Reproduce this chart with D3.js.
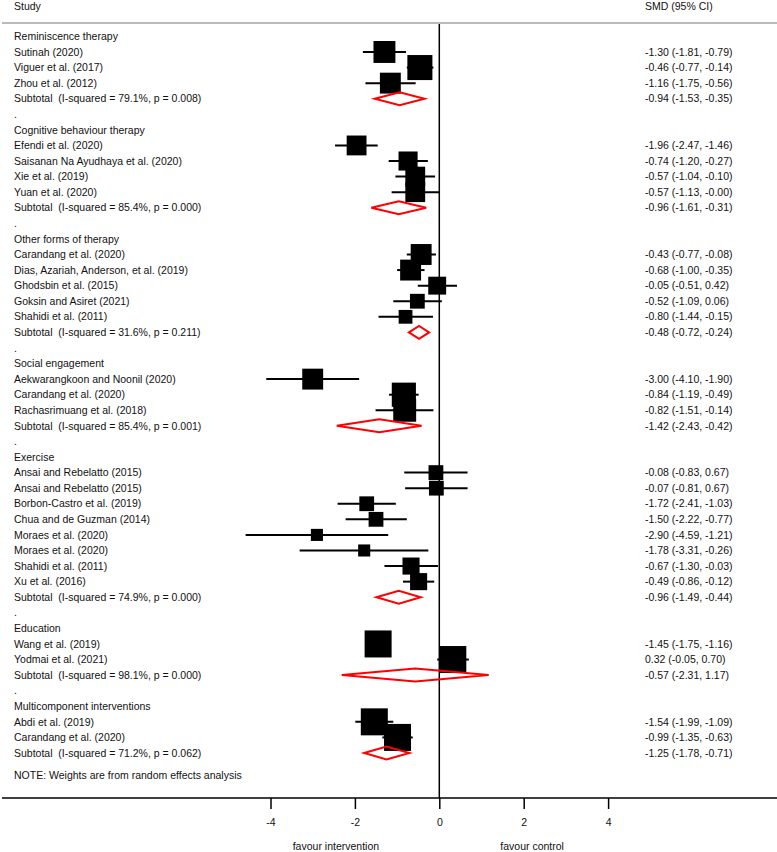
<!DOCTYPE html>
<html lang="en">
<head>
<meta charset="UTF-8">
<title>Forest plot</title>
<style>
  body { margin: 0; background: #fff; }
  svg text { font-family: "Liberation Sans", Arial, Helvetica, sans-serif; font-size: 10.5px; fill: #111; white-space: pre; }
</style>
</head>
<body>
<svg id="forest" width="777" height="852"></svg>
<script src="https://d3js.org/d3.v7.min.js"></script>
<script>
// groups
const groupNames = ["Reminiscence therapy", "Cognitive behaviour therapy", "Other forms of therapy",
  "Social engagement", "Exercise", "Education", "Multicomponent interventions"];

// studies (group index, label, SMD, lower, upper, relative weight)
const studyGroup = [0,0,0, 1,1,1,1, 2,2,2,2,2, 3,3,3, 4,4,4,4,4,4,4,4, 5,5, 6,6];
const studyLabels = ["Sutinah (2020)", "Viguer et al. (2017)", "Zhou et al. (2012)",
  "Efendi et al. (2020)", "Saisanan Na Ayudhaya et al. (2020)", "Xie et al. (2019)", "Yuan et al. (2020)",
  "Carandang et al. (2020)", "Dias, Azariah, Anderson, et al. (2019)", "Ghodsbin et al. (2015)", "Goksin and Asiret (2021)", "Shahidi et al. (2011)",
  "Aekwarangkoon and Noonil (2020)", "Carandang et al. (2020)", "Rachasrimuang et al. (2018)",
  "Ansai and Rebelatto (2015)", "Ansai and Rebelatto (2015)", "Borbon-Castro et al. (2019)", "Chua and de Guzman (2014)",
  "Moraes et al. (2020)", "Moraes et al. (2020)", "Shahidi et al. (2011)", "Xu et al. (2016)",
  "Wang et al. (2019)", "Yodmai et al. (2021)",
  "Abdi et al. (2019)", "Carandang et al. (2020)"];
const studySmd = [-1.30, -0.46, -1.16, -1.96, -0.74, -0.57, -0.57, -0.43, -0.68, -0.05, -0.52, -0.80,
  -3.00, -0.84, -0.82, -0.08, -0.07, -1.72, -1.50, -2.90, -1.78, -0.67, -0.49, -1.45, 0.32, -1.54, -0.99];
const studyLo = [-1.81, -0.77, -1.75, -2.47, -1.20, -1.04, -1.13, -0.77, -1.00, -0.51, -1.09, -1.44,
  -4.10, -1.19, -1.51, -0.83, -0.81, -2.41, -2.22, -4.59, -3.31, -1.30, -0.86, -1.75, -0.05, -1.99, -1.35];
const studyHi = [-0.79, -0.14, -0.56, -1.46, -0.27, -0.10, -0.00, -0.08, -0.35, 0.42, 0.06, -0.15,
  -1.90, -0.49, -0.14, 0.67, 0.67, -1.03, -0.77, -1.21, -0.26, -0.03, -0.12, -1.16, 0.70, -1.09, -0.63];
const studyWeight = [33, 43, 30, 27, 25, 27, 27, 30, 30, 22, 15, 13, 30, 40, 36,
  15, 15, 15, 15, 10, 10, 20, 20, 50, 50, 50, 50];

// subtotals per group
const subI2 = ["79.1", "85.4", "31.6", "85.4", "74.9", "98.1", "71.2"];
const subP = ["0.008", "0.000", "0.211", "0.001", "0.000", "0.000", "0.062"];
const subSmd = [-0.94, -0.96, -0.48, -1.42, -0.96, -0.57, -1.25];
const subLo = [-1.53, -1.61, -0.72, -2.43, -1.49, -2.31, -1.78];
const subHi = [-0.35, -0.31, -0.24, -0.42, -0.44, 1.17, -0.71];

const xTicks = [-4, -2, 0, 2, 4];

// plain hyphen minus, keep "-0.00"
const fmt = v => (Object.is(v, -0) ? "-" : "") + v.toFixed(2);
const ci = (m, l, h) => `${fmt(m)} (${fmt(l)}, ${fmt(h)})`;

// build rows
const rows = [];
groupNames.forEach((g, gi) => {
  rows.push({ type: "header", label: g });
  studyGroup.forEach((sg, i) => {
    if (sg === gi) rows.push({ type: "study", label: studyLabels[i], m: studySmd[i], lo: studyLo[i], hi: studyHi[i], w: studyWeight[i] });
  });
  rows.push({ type: "sub", label: `Subtotal  (I-squared = ${subI2[gi]}%, p = ${subP[gi]})`, m: subSmd[gi], lo: subLo[gi], hi: subHi[gi] });
  rows.push({ type: "dot", label: "." });
});
rows.forEach((r, i) => r.i = i);

const svg = d3.select("#forest");

const x = d3.scaleLinear().domain([-4, 4]).range([270.5, 608.1]);
const y = d3.scaleLinear().domain([0, rows.length - 2]).range([36.4, 753]);
const box = d3.scaleSqrt().domain([0, 50]).range([0, 27]);

const xLabel = 14, xCi = 645;
const axisY = 798;

// header
svg.append("text").attr("x", xLabel).attr("y", 6).attr("dy", "0.35em").text("Study");
svg.append("text").attr("x", xCi).attr("y", 6).attr("dy", "0.35em").text("SMD (95% CI)");
svg.append("line").attr("x1", 2).attr("x2", 777).attr("y1", 23).attr("y2", 23)
  .attr("stroke", "#bbb").attr("stroke-width", 2);

// zero line
svg.append("line").attr("x1", x(0)).attr("x2", x(0)).attr("y1", 24).attr("y2", axisY)
  .attr("stroke", "#000").attr("stroke-width", 1.5);

// row labels
svg.append("g").selectAll("text")
  .data(rows)
  .join("text")
    .attr("x", xLabel)
    .attr("y", d => y(d.i))
    .attr("dy", "0.35em")
    .text(d => d.label);

svg.append("text").attr("x", xLabel).attr("y", y(rows.length - 1) + 7).attr("dy", "0.35em")
  .text("NOTE: Weights are from random effects analysis");

// CI text
svg.append("g").selectAll("text")
  .data(rows.filter(d => d.type === "study" || d.type === "sub"))
  .join("text")
    .attr("x", xCi)
    .attr("y", d => y(d.i))
    .attr("dy", "0.35em")
    .text(d => ci(d.m, d.lo, d.hi));

// study CIs and boxes
const studies = rows.filter(d => d.type === "study");
const sg = svg.append("g");
sg.selectAll("line")
  .data(studies)
  .join("line")
    .attr("x1", d => x(d.lo))
    .attr("x2", d => x(d.hi))
    .attr("y1", d => y(d.i))
    .attr("y2", d => y(d.i))
    .attr("stroke", "#000")
    .attr("stroke-width", 2);
sg.selectAll("rect")
  .data(studies)
  .join("rect")
    .attr("x", d => x(d.m) - box(d.w) / 2)
    .attr("y", d => y(d.i) - box(d.w) / 2)
    .attr("width", d => box(d.w))
    .attr("height", d => box(d.w))
    .attr("fill", "#000");

// subtotal diamonds
const dh = 6.5;
svg.append("g").selectAll("path")
  .data(rows.filter(d => d.type === "sub"))
  .join("path")
    .attr("d", d => `M${x(d.lo)},${y(d.i)}L${x(d.m)},${y(d.i) - dh}L${x(d.hi)},${y(d.i)}L${x(d.m)},${y(d.i) + dh}Z`)
    .attr("fill", "none")
    .attr("stroke", "#f00")
    .attr("stroke-width", 2);

// axis
svg.append("line").attr("x1", 2).attr("x2", 777).attr("y1", axisY).attr("y2", axisY)
  .attr("stroke", "#000").attr("stroke-width", 1.5);
const ax = svg.append("g").attr("transform", `translate(0,${axisY})`)
  .call(d3.axisBottom(x).tickValues(xTicks).tickSize(11).tickPadding(10).tickFormat(d => String(d)));
ax.select(".domain").remove();
ax.selectAll(".tick line").attr("stroke-width", 1.5);
ax.selectAll(".tick text").attr("font-size", null).attr("font-family", null).style("fill", "#111");

svg.append("text").attr("x", x(-2.45)).attr("y", 846).attr("dy", "0.35em").attr("text-anchor", "middle")
  .text("favour intervention");
svg.append("text").attr("x", x(2.2)).attr("y", 846).attr("dy", "0.35em").attr("text-anchor", "middle")
  .text("favour control");
</script>
</body>
</html>
